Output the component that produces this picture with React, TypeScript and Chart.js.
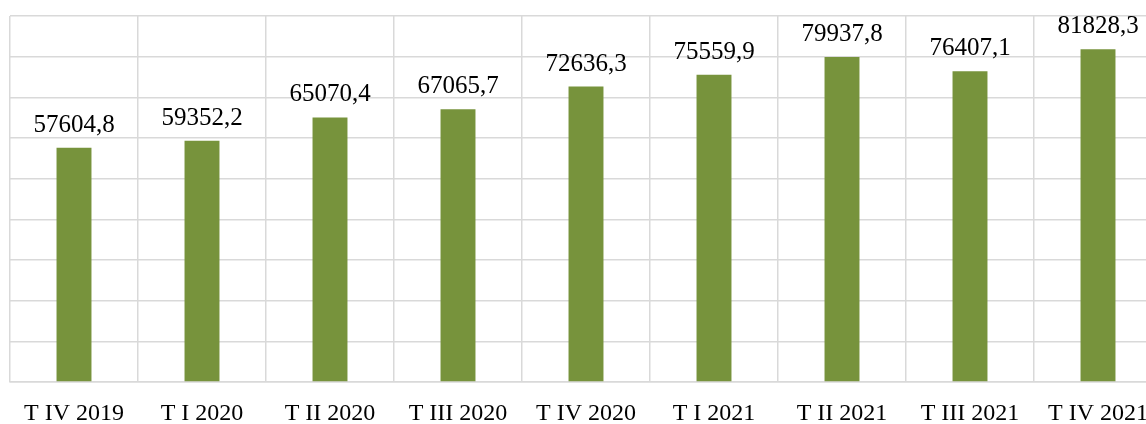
import React, { useEffect, useRef } from "react";
import { Chart, registerables } from "chart.js";

Chart.register(...registerables);

const categories = [
  "T IV 2019",
  "T I 2020",
  "T II 2020",
  "T III 2020",
  "T IV 2020",
  "T I 2021",
  "T II 2021",
  "T III 2021",
  "T IV 2021",
];
const values = [57604.8, 59352.2, 65070.4, 67065.7, 72636.3, 75559.9, 79937.8, 76407.1, 81828.3];
const yMin = 0;
const yMax = 90000;
const yStep = 10000;

const FONT = "'Liberation Serif', serif";

const valueLabels = {
  id: "valueLabels",
  afterDatasetsDraw(chart: any) {
    const ctx = chart.ctx;
    const meta = chart.getDatasetMeta(0);
    ctx.save();
    ctx.font = `25px ${FONT}`;
    ctx.fillStyle = "#000000";
    ctx.textAlign = "center";
    ctx.textBaseline = "alphabetic";
    meta.data.forEach((bar: any, i: number) => {
      const txt = values[i].toFixed(1).replace(".", ",");
      ctx.fillText(txt, bar.x, bar.y - 16);
    });
    ctx.restore();
  },
};

export default function App() {
  const ref = useRef<HTMLCanvasElement | null>(null);
  useEffect(() => {
    if (!ref.current) return;
    const chart = new Chart(ref.current, {
      type: "bar",
      data: {
        labels: categories,
        datasets: [
          {
            data: values,
            backgroundColor: "#77933C",
            borderWidth: 0,
            categoryPercentage: 1,
            barPercentage: 0.273,
          },
        ],
      },
      options: {
        responsive: false,
        animation: false,
        devicePixelRatio: 1,
        layout: { padding: { left: 10, top: 16, right: 8, bottom: 0 } },
        plugins: { legend: { display: false }, tooltip: { enabled: false } },
        scales: {
          x: {
            grid: { color: "#d9d9d9", lineWidth: 1.5, drawTicks: false, offset: true },
            border: { color: "#d9d9d9", width: 1.5 },
            ticks: {
              color: "#000000",
              font: { family: FONT, size: 24 },
              padding: 17,
              maxRotation: 0,
              autoSkip: false,
            },
            afterFit: (scale: any) => {
              scale.height = 42;
            },
          },
          y: {
            min: yMin,
            max: yMax,
            grid: { color: "#d9d9d9", lineWidth: 1.5, drawTicks: false },
            border: { display: false },
            ticks: { display: false, stepSize: yStep },
            afterFit: (scale: any) => {
              scale.width = 0;
            },
          },
        },
      },
      plugins: [valueLabels],
    });
    return () => chart.destroy();
  }, []);
  return (
    <div
      style={{
        position: "fixed",
        left: 0,
        top: 0,
        width: 1146,
        height: 424,
        overflow: "hidden",
        background: "#ffffff",
      }}
    >
      <canvas ref={ref} width={1170} height={424} style={{ display: "block" }} />
    </div>
  );
}
